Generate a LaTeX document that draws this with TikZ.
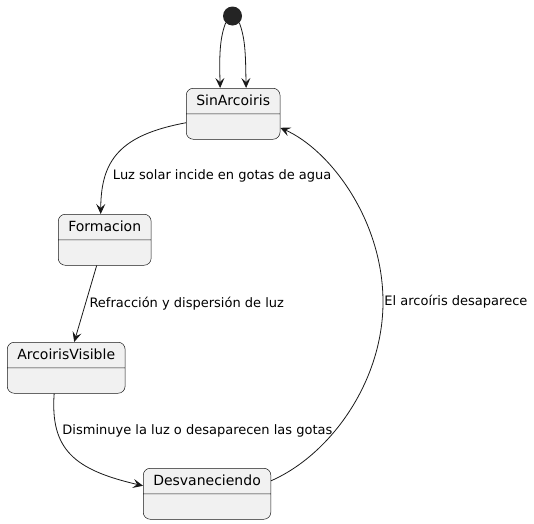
\documentclass[tikz,border=0pt]{standalone}
\usepackage{fontspec}
\setmainfont{DejaVu Sans}
\usetikzlibrary{arrows.meta, shapes.multipart}

\definecolor{boxfill}{HTML}{F1F1F1}
\definecolor{boxline}{HTML}{181818}

\tikzset{
    state/.style={rectangle split, rectangle split parts=2, draw=boxline, line width=0.5pt,
        fill=boxfill, rounded corners=7pt, inner xsep=10pt, inner ysep=5.25pt,
        text height=11.5pt, text depth=3pt, rectangle split empty part height=14.5pt,
        rectangle split empty part depth=0pt, font=\fontsize{14}{16.8}\selectfont, anchor=north west},
    lbl/.style={inner sep=2pt, font=\fontsize{13}{15.6}\selectfont, anchor=west},
    tr/.style={draw=boxline, line width=0.8pt, -{Stealth[length=10pt, width=9pt, inset=4pt]}}
}

\begin{document}
\begin{tikzpicture}[x=1pt, y=-1pt]
        \useasboundingbox (0, 0) rectangle (534, 523);

        \node[circle, fill=boxline!95!white, minimum size=19pt, inner sep=0pt] (start) at (232.5, 16) {};

        \node[state] (sin)  at (186, 88)  {SinArcoiris \nodepart{two}};
        \node[state] (form) at (58, 214)  {Formacion \nodepart{two}};
        \node[state] (arc)  at (7, 342)   {ArcoirisVisible \nodepart{two}};
        \node[state] (desv) at (143, 468) {Desvaneciendo \nodepart{two}};

        \draw[tr] (start.225) .. controls (219, 40) and (219.5, 60) .. ([xshift=-13pt]sin.north);
        \draw[tr] (start.315) .. controls (246, 40) and (245.5, 60) .. ([xshift=13pt]sin.north);

        \draw[tr] ([yshift=-9pt]sin.west) .. controls (120, 135) and (101, 160) .. ([xshift=-4pt]form.north)
            node[lbl, pos=0.73, xshift=5pt] {Luz solar incide en gotas de agua};
        \draw[tr] ([xshift=-8pt]form.south) -- ([xshift=8pt]arc.north)
            node[lbl, pos=0.5, xshift=1.7pt] {Refracción y dispersión de luz};
        \draw[tr] ([xshift=-12pt]arc.south) .. controls (50, 450) and (75, 470) .. ([yshift=8pt]desv.west)
            node[lbl, pos=0.3, xshift=1.4pt, yshift=4pt] {Disminuye la luz o desaparecen las gotas};
        \draw[tr] ([yshift=13pt]desv.east) .. controls (330, 455) and (383, 382) .. (383, 302)
            node[lbl, xshift=-1pt] {El arcoíris desaparece}
            .. controls (383, 220) and (330, 150) .. ([yshift=-14pt]sin.east);
    \end{tikzpicture}
\end{document}
